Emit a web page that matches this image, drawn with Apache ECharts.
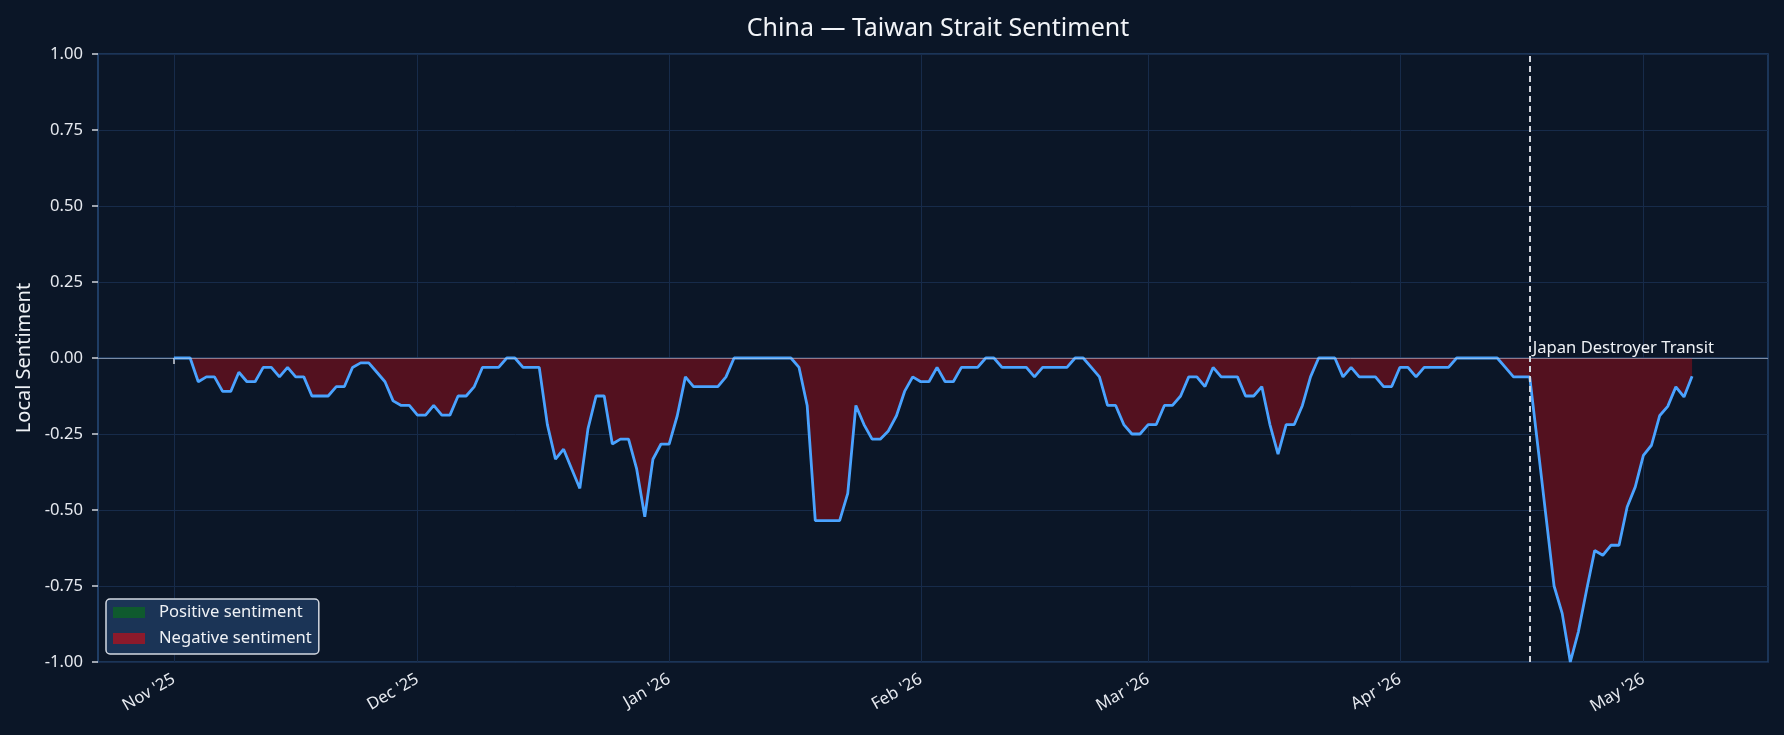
<!DOCTYPE html>
<html>
<head>
<meta charset="utf-8">
<script src="https://cdn.jsdelivr.net/npm/echarts@6/dist/echarts.min.js"></script>
<style>
  html, body { margin: 0; padding: 0; background: #0b1627; }
  #chart { width: 1784px; height: 735px; }
</style>
</head>
<body>
<div id="chart"></div>
<script>
// daily local sentiment, starting 1 Nov 2025
var startDay = [2025, 10, 1];
var sentiment = [
    0, 0, 0, -0.078, -0.062, -0.062, -0.11, -0.11, -0.047, -0.078,
    -0.078, -0.031, -0.031, -0.062, -0.031, -0.062, -0.062, -0.125, -0.125, -0.125,
    -0.094, -0.094, -0.031, -0.016, -0.016, -0.047, -0.078, -0.141, -0.156, -0.156,
    -0.188, -0.188, -0.156, -0.188, -0.188, -0.125, -0.125, -0.094, -0.031, -0.031,
    -0.031, 0, 0, -0.031, -0.031, -0.031, -0.219, -0.333, -0.3, -0.365,
    -0.429, -0.233, -0.125, -0.125, -0.283, -0.267, -0.267, -0.365, -0.522, -0.333,
    -0.283, -0.283, -0.19, -0.062, -0.094, -0.094, -0.094, -0.094, -0.062, 0,
    0, 0, 0, 0, 0, 0, 0, -0.031, -0.156, -0.535,
    -0.535, -0.535, -0.535, -0.445, -0.156, -0.219, -0.267, -0.267, -0.24, -0.19,
    -0.11, -0.062, -0.078, -0.078, -0.031, -0.078, -0.078, -0.031, -0.031, -0.031,
    0, 0, -0.031, -0.031, -0.031, -0.031, -0.062, -0.031, -0.031, -0.031,
    -0.031, 0, 0, -0.031, -0.062, -0.156, -0.156, -0.219, -0.25, -0.25,
    -0.219, -0.219, -0.156, -0.156, -0.125, -0.062, -0.062, -0.094, -0.031, -0.062,
    -0.062, -0.062, -0.125, -0.125, -0.094, -0.219, -0.316, -0.219, -0.219, -0.156,
    -0.062, 0, 0, 0, -0.062, -0.031, -0.062, -0.062, -0.062, -0.094,
    -0.094, -0.031, -0.031, -0.062, -0.031, -0.031, -0.031, -0.031, 0, 0,
    0, 0, 0, 0, -0.031, -0.062, -0.062, -0.062, -0.29, -0.52,
    -0.75, -0.84, -1.0, -0.9, -0.764, -0.633, -0.649, -0.616, -0.616, -0.49,
    -0.424, -0.32, -0.287, -0.19, -0.159, -0.095, -0.128, -0.06
];
var monthTicks = ['2025-11-01', '2025-12-01', '2026-01-01', '2026-02-01', '2026-03-01', '2026-04-01', '2026-05-01'];
var tickLabels = ["Nov '25", "Dec '25", "Jan '26", "Feb '26", "Mar '26", "Apr '26", "May '26"];
var eventDate = '2026-04-17';
var eventLabel = 'Japan Destroyer Transit';

function toTime(s) {
    var p = s.split('-');
    return new Date(+p[0], +p[1] - 1, +p[2]).getTime();
}
var seriesData = sentiment.map(function (v, i) {
    return [new Date(startDay[0], startDay[1], startDay[2] + i).getTime(), v];
});
var first = seriesData[0][0], last = seriesData[seriesData.length - 1][0];
var pad = (last - first) * 0.05;   // same side margins as the original plot
var tickTimes = monthTicks.map(toTime);
var labelFor = {};
tickTimes.forEach(function (t, i) { labelFor[t] = tickLabels[i]; });

var font = 'Noto Sans';
var myChart = echarts.init(document.getElementById('chart'));

var option = {
    backgroundColor: '#0b1627',
    animation: false,
    textStyle: {fontFamily: font},
    title: {
        text: 'China \u2014 Taiwan Strait Sentiment',
        left: 933,
        textAlign: 'center',
        top: 11,
        textStyle: {color: '#f2f4f8', fontSize: 25, fontWeight: 'normal', fontFamily: font}
    },
    grid: {
        left: 98, right: 16, top: 54, bottom: 73,
        show: true,
        borderColor: '#22406a',
        borderWidth: 1.5,
        backgroundColor: 'transparent'
    },
    legend: {
        data: [
            {name: 'Positive sentiment', icon: 'rect'},
            {name: 'Negative sentiment', icon: 'rect'}
        ],
        orient: 'vertical',
        left: 106,
        top: 599,
        itemWidth: 32,
        itemHeight: 11,
        itemGap: 9,
        padding: [5, 7, 7, 7],
        backgroundColor: '#1b3456',
        borderColor: '#d4d9e2',
        borderWidth: 1.5,
        borderRadius: 4,
        textStyle: {color: '#eef1f5', fontSize: 16.6, fontFamily: font, padding: [0, 0, 0, 9]}
    },
    xAxis: {
        type: 'value',
        min: first - pad,
        max: last + pad,
        axisLine: {show: true, lineStyle: {color: '#22406a', width: 1.5}},
        axisTick: {show: true, customValues: tickTimes, length: 6, lineStyle: {color: '#d0d4dc', width: 1.5}},
        axisLabel: {
            customValues: tickTimes,
            rotate: 30,
            color: '#e6e9ef',
            fontSize: 16.6,
            fontFamily: font,
            margin: 16,
            formatter: function (v) { return labelFor[v] || ''; }
        },
        splitLine: {show: true, lineStyle: {color: '#172b4a', width: 1}}
    },
    yAxis: {
        type: 'value',
        min: -1,
        max: 1,
        interval: 0.25,
        name: 'Local Sentiment',
        nameLocation: 'middle',
        nameRotate: 90,
        nameGap: 64,
        nameTextStyle: {color: '#eef1f5', fontSize: 20, fontFamily: font},
        axisLine: {show: true, lineStyle: {color: '#22406a', width: 1.5}},
        axisTick: {show: true, length: 6, lineStyle: {color: '#d0d4dc', width: 1.5}},
        axisLabel: {
            color: '#e6e9ef',
            fontSize: 16.6,
            fontFamily: font,
            margin: 15,
            formatter: function (v) { return v.toFixed(2); }
        },
        splitLine: {show: true, lineStyle: {color: '#172b4a', width: 1}}
    },
    series: [
        {
            name: 'Sentiment',
            type: 'line',
            data: seriesData,
            showSymbol: false,
            symbol: 'none',
            z: 3,
            lineStyle: {color: '#4aa3ff', width: 2.8},
            itemStyle: {color: '#4aa3ff'},
            areaStyle: {color: '#53111f', opacity: 1, origin: 0},
            markLine: {
                silent: true,
                symbol: 'none',
                animation: false,
                label: {show: false},
                data: [
                    {yAxis: 0, lineStyle: {color: 'rgba(200,206,218,0.55)', width: 1, type: 'solid'}},
                    {xAxis: toTime(eventDate), lineStyle: {color: '#d2d6de', width: 2, type: [6, 4]}}
                ]
            },
            markPoint: {
                silent: true,
                symbol: 'circle',
                symbolSize: 0,
                data: [{coord: [toTime(eventDate), 0], value: 0}],
                label: {
                    show: true,
                    position: 'right',
                    distance: 3,
                    offset: [0, -10],
                    color: '#eef1f5',
                    fontSize: 16.6,
                    fontFamily: font,
                    formatter: eventLabel
                }
            }
        },
        {name: 'Positive sentiment', type: 'bar', data: [], itemStyle: {color: '#0f5a2e'}},
        {name: 'Negative sentiment', type: 'bar', data: [], itemStyle: {color: '#8c1a2b'}}
    ]
};
myChart.setOption(option);
</script>
</body>
</html>
